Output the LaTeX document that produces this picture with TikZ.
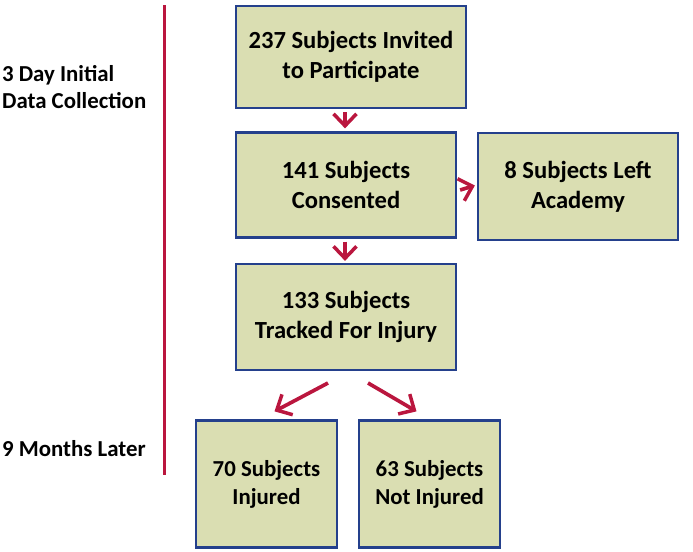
\documentclass[tikz,border=0pt]{standalone}
\usepackage{fontspec}
\setmainfont{Carlito}
\usepackage{xcolor}
\definecolor{boxfill}{RGB}{218,222,178}
\definecolor{boxblue}{RGB}{36,64,140}
\definecolor{flowred}{RGB}{186,22,62}
\usepackage{tikz}
\usetikzlibrary{arrows.meta, positioning}

\begin{document}
\begin{tikzpicture}[
  stagebox/.style={draw=boxblue, line width=1.3pt, fill=boxfill, align=center,
                   font=\fontsize{14}{17}\selectfont\bfseries, inner sep=2pt},
  smallbox/.style={stagebox, font=\fontsize{13}{16}\selectfont\bfseries},
  flow/.style={-{Straight Barb[length=2.4mm, width=4.6mm, line width=2pt]},
               flowred, line width=2.1pt},
  phase/.style={font=\fontsize{13}{15.5}\selectfont\bfseries, align=left, anchor=west,
                inner sep=1pt}
]
\useasboundingbox (0,0) rectangle (13.86,-11.02);

% === Timeline on the left ===
\draw[flowred, line width=1.8pt] (3.29,-0.10) -- (3.29,-9.50);
\node[phase] (initial) at (0.0,-1.74) {3 Day Initial\\Data Collection};
\node[phase] (later) at (0.0,-8.98) {9 Months Later};

% === Flow boxes ===
\node[stagebox, minimum width=4.6cm, minimum height=2.04cm] (invited) at (7.02,-1.14)
     {237 Subjects Invited\\to Participate};
\node[stagebox, minimum width=4.4cm, minimum height=2.1cm] (consent) at (6.92,-3.70)
     {141 Subjects\\Consented};
\node[stagebox, minimum width=4.0cm, minimum height=2.14cm] (left) at (11.56,-3.73)
     {8 Subjects Left\\Academy};
\node[stagebox, minimum width=4.4cm, minimum height=2.12cm] (tracked) at (6.92,-6.34)
     {133 Subjects\\Tracked For Injury};
\node[smallbox, minimum width=2.82cm, minimum height=2.54cm] (injured) at (5.33,-9.68)
     {70 Subjects\\Injured};
\node[smallbox, minimum width=2.82cm, minimum height=2.54cm] (notinj) at (8.59,-9.68)
     {63 Subjects\\Not Injured};

% === Arrows ===
\draw[flow] ([xshift=-0.12cm, yshift=-0.06cm]invited.south) -- ([xshift=-0.12cm, yshift=0.06cm]invited.south |- consent.north);
\draw[flow] ([xshift=-0.02cm, yshift=-0.06cm]consent.south) -- ([xshift=-0.02cm, yshift=0.04cm]tracked.north);
\draw[flow] ([xshift=0.06cm, yshift=-0.1cm]consent.east) -- ([xshift=-0.04cm, yshift=0.02cm]left.west);
\coordinate (forkl) at (6.56,-7.66);
\coordinate (forkr) at (7.36,-7.66);
\draw[flow] (forkl) -- ([xshift=0.16cm, yshift=0.16cm]injured.north);
\draw[flow] (forkr) -- ([xshift=-0.26cm, yshift=0.16cm]notinj.north);

\end{tikzpicture}
\end{document}
